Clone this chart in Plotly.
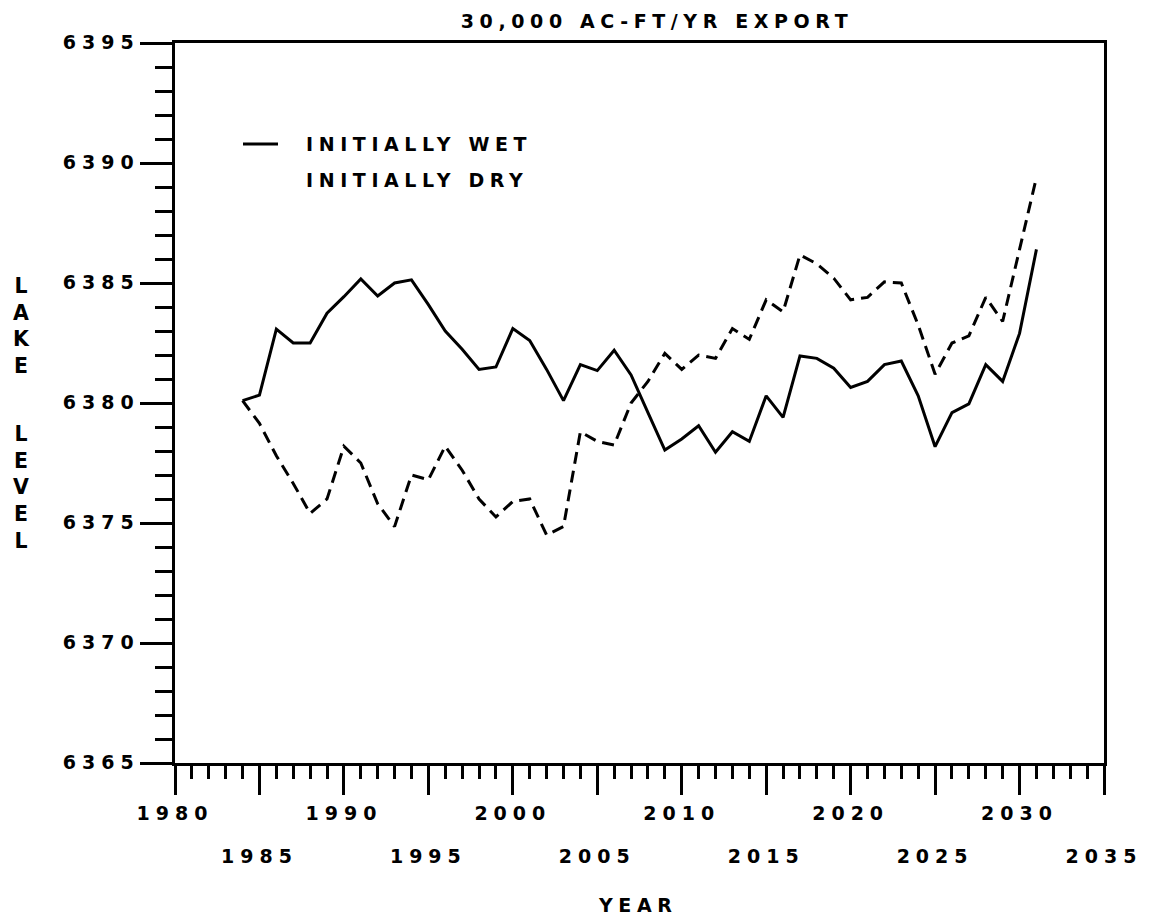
import plotly.graph_objects as go

# ---- data ----
years = list(range(1984, 2032))
initially_wet = [6380.1, 6380.33, 6383.08, 6382.5, 6382.5, 6383.74, 6384.43, 6385.17,
                 6384.46, 6385.0, 6385.13, 6384.1, 6383.0, 6382.24, 6381.4, 6381.5,
                 6383.1, 6382.6, 6381.4, 6380.1, 6381.6, 6381.35, 6382.2, 6381.17,
                 6379.6, 6378.04, 6378.5, 6379.05, 6377.95, 6378.8, 6378.4, 6380.3,
                 6379.4, 6381.96, 6381.86, 6381.45, 6380.65, 6380.9, 6381.6, 6381.75,
                 6380.3, 6378.18, 6379.6, 6379.96, 6381.6, 6380.9, 6382.9, 6386.4]
initially_dry = [6380.1, 6379.15, 6377.8, 6376.65, 6375.4, 6376.0, 6378.2, 6377.5,
                 6375.8, 6374.85, 6377.0, 6376.8, 6378.2, 6377.2, 6376.0, 6375.25,
                 6375.9, 6376.0, 6374.5, 6374.85, 6378.8, 6378.4, 6378.25, 6380.0,
                 6380.9, 6382.07, 6381.4, 6382.0, 6381.86, 6383.1, 6382.65, 6384.3,
                 6383.8, 6386.17, 6385.8, 6385.2, 6384.3, 6384.4, 6385.05, 6385.0,
                 6383.25, 6381.2, 6382.5, 6382.8, 6384.4, 6383.4, 6386.4, 6389.4]
x_ticks = list(range(1980, 2036, 5))
y_ticks = list(range(6365, 6396, 5))
title_text = "30,000 AC-FT/YR EXPORT"
series_names = ["INITIALLY WET", "INITIALLY DRY"]
x_title = "YEAR"
y_title_words = ["LAKE", "LEVEL"]

FONT = "DejaVu Sans"
TICK_SP = "font-size:19px;letter-spacing:6px"
TEXT_SP = "font-size:19px;letter-spacing:5.6px"

# figure is drawn inside the page's 8px body margin
W, H = 1149, 912
OX, OY = 8, 8
PX0, PX1, PY0, PY1 = 175, 1104, 43, 763  # plot area in page pixels
PW, PH = PX1 - PX0, PY1 - PY0


def wide(s, style=TEXT_SP):
    return f"<span style='{style}'>{s}</span>"


def px(xp):
    return (xp - PX0) / PW


def py(yp):
    return (PY1 - yp) / PH


x_text = []
for i, v in enumerate(x_ticks):
    if i % 2 == 0:
        x_text.append(wide(str(v), TICK_SP))
    else:
        x_text.append("\u00a0<br>\u00a0<br>" + wide(str(v), TICK_SP))
y_text = [wide(str(v), TICK_SP) for v in y_ticks]

fig = go.Figure()
fig.add_trace(go.Scatter(x=years, y=initially_wet, mode="lines", name=series_names[0],
                         line=dict(color="black", width=3), showlegend=False))
fig.add_trace(go.Scatter(x=years, y=initially_dry, mode="lines", name=series_names[1],
                         line=dict(color="black", width=3, dash="12px,7px"), showlegend=False))

base_font = dict(family=FONT, size=16.5, color="black", weight="bold")

fig.update_layout(
    width=W, height=H,
    margin=dict(l=PX0 - OX, r=W - (PX1 - OX), t=PY0 - OY, b=H - (PY1 - OY)),
    paper_bgcolor="white", plot_bgcolor="white",
    font=base_font,
    title=dict(text=wide(title_text), x=px(657), xref="paper", xanchor="center",
               y=1 - (22 - OY) / H, yref="container", yanchor="middle",
               font=base_font),
)

fig.update_xaxes(
    range=[1980, 2035], showgrid=False, zeroline=False,
    showline=True, linecolor="black", linewidth=3, mirror=True,
    ticks="outside", ticklen=29, tickwidth=3, tickcolor="black",
    tickvals=x_ticks, ticktext=x_text, automargin=False, ticklabelstandoff=5,
    tickfont=base_font,
    minor=dict(dtick=1, ticks="outside", ticklen=13, tickwidth=3, tickcolor="black", showgrid=False),
)
fig.update_yaxes(
    range=[6365, 6395], showgrid=False, zeroline=False,
    showline=True, linecolor="black", linewidth=3, mirror=True,
    ticks="outside", ticklen=32, tickwidth=3, tickcolor="black",
    tickvals=y_ticks, ticktext=y_text, automargin=False, ticklabelstandoff=-3,
    tickfont=base_font,
    minor=dict(dtick=1, ticks="outside", ticklen=17, tickwidth=3, tickcolor="black", showgrid=False),
)

# legend (as drawn in the reference: line sample only for the first entry)
fig.add_shape(type="line", xref="paper", yref="paper",
              x0=px(243), x1=px(278), y0=py(144), y1=py(144),
              line=dict(color="black", width=3))
fig.add_annotation(text=wide(series_names[0]), xref="paper", yref="paper",
                   x=px(304), y=py(144), xanchor="left", yanchor="middle",
                   showarrow=False, font=base_font)
fig.add_annotation(text=wide(series_names[1]), xref="paper", yref="paper",
                   x=px(304), y=py(180), xanchor="left", yanchor="middle",
                   showarrow=False, font=base_font)

# axis titles
fig.add_annotation(text=wide(x_title), xref="paper", yref="paper",
                   x=px(637), y=py(905), xanchor="center", yanchor="middle",
                   showarrow=False, font=base_font)
for word, yc in zip(y_title_words, [326, 487]):
    fig.add_annotation(text="<br>".join(list(word)),
                       xref="paper", yref="paper",
                       x=px(21), y=py(yc), xanchor="center", yanchor="middle",
                       showarrow=False, align="center",
                       font=dict(family=FONT, size=20.5, color="black", weight="bold"))

fig.write_html("out.html")
